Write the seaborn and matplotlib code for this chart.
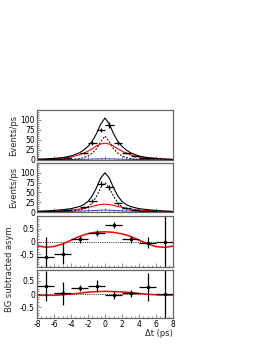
import numpy as np
import pandas as pd
import matplotlib
matplotlib.use("Agg")
import matplotlib.pyplot as plt
import seaborn as sns
from matplotlib.ticker import MultipleLocator

sns.set_theme(style="white")
plt.rcParams['font.family'] = ['DejaVu Sans']

# ---- data ----
# curve sample points (dt in ps)
curve_x = [-8, -7, -6, -5, -4, -3, -2.5, -2, -1.5, -1, -0.5, 0, 0.5, 1, 1.5, 2, 2.5, 3, 4, 5, 6, 7, 8]

# panel 1 curves
p1_total = [1.5, 2.5, 4, 6, 10, 18, 25, 34, 47, 66, 90, 105, 90, 66, 47, 34, 25, 18, 10, 6, 4, 2.5, 1.5]
p1_sig   = [0.1, 0.2, 0.4, 0.8, 1.5, 3.5, 6, 10, 17, 28, 46, 60, 46, 28, 17, 10, 6, 3.5, 1.5, 0.8, 0.4, 0.2, 0.1]
p1_bkg   = [1.2, 2, 3, 4.5, 7.5, 13, 17, 22, 28, 35, 40, 42, 40, 35, 28, 22, 17, 13, 7.5, 4.5, 3, 2, 1.2]
p1_blue  = [0.3, 0.4, 0.6, 0.8, 1.0, 1.4, 1.7, 2.0, 2.3, 2.6, 2.9, 3.0, 2.9, 2.6, 2.3, 2.0, 1.7, 1.4, 1.0, 0.8, 0.6, 0.4, 0.3]

# panel 2 curves
p2_total = [1.5, 2.5, 4, 6, 8.5, 14, 19, 27, 41, 62, 87, 100, 87, 62, 41, 27, 19, 14, 8.5, 6, 4, 2.5, 1.5]
p2_sig   = [0.1, 0.2, 0.4, 0.8, 2, 5, 8, 13, 23, 40, 62, 75, 62, 40, 23, 13, 8, 5, 2, 0.8, 0.4, 0.2, 0.1]
p2_bkg   = [1, 1.5, 2.2, 3.5, 5, 7.5, 9.5, 12, 14, 17, 19, 20, 19, 17, 14, 12, 9.5, 7.5, 5, 3.5, 2.2, 1.5, 1]
p2_blue  = [0.4, 0.6, 0.9, 1.2, 1.7, 2.3, 2.7, 3.1, 3.6, 4.1, 4.6, 5.0, 4.6, 4.1, 3.6, 3.1, 2.7, 2.3, 1.7, 1.2, 0.9, 0.6, 0.4]

# panel 1 data points
p1_x    = [-6.5, -4.5, -2.5, -1.5, -0.5, 0.5, 1.5, 2.5, 3.5, 5.0]
p1_xerr = [1.5, 0.5, 0.5, 0.5, 0.5, 0.5, 0.5, 0.5, 0.5, 1.0]
p1_y    = [2, 6, 17, 43, 75, 88, 43, 17, 9, 4]
p1_yerr = [1, 2, 3, 5, 6, 7, 5, 3, 2, 1.5]

# panel 2 data points
p2_x    = [-6.5, -4.5, -2.5, -1.5, -0.5, 0.5, 1.5, 2.5, 3.5, 5.0]
p2_xerr = [1.5, 0.5, 0.5, 0.5, 0.5, 0.5, 0.5, 0.5, 0.5, 1.0]
p2_y    = [3, 5, 13, 28, 72, 63, 22, 11, 5, 2]
p2_yerr = [1.5, 2, 3, 4, 6, 6, 4, 3, 2, 1.5]

# asymmetry panels
asym_x    = [-7, -5, -3, -1, 1, 3, 5, 7]
asym_xerr = [1, 1, 1, 1, 1, 1, 1, 1]
p3_y      = [-0.62, -0.48, 0.08, 0.32, 0.63, 0.08, -0.04, 0.0]
p3_yerr   = [0.8, 0.42, 0.14, 0.12, 0.12, 0.12, 0.22, 2.0]
p4_y      = [0.30, 0.02, 0.22, 0.30, -0.02, 0.02, 0.26, 0.0]
p4_yerr   = [0.58, 0.42, 0.12, 0.22, 0.15, 0.12, 0.52, 2.0]

asym_curve_x = [-8, -7, -6, -5, -4, -3, -2, -1, 0, 1, 2, 3, 4, 5, 6, 7, 8]
p3_curve = [-0.17, -0.22, -0.2, -0.1, 0.05, 0.2, 0.31, 0.37, 0.38, 0.36, 0.3, 0.2, 0.05, -0.09, -0.2, -0.23, -0.18]
p4_curve = [-0.05, -0.05, -0.05, -0.03, 0.0, 0.03, 0.07, 0.09, 0.1, 0.09, 0.08, 0.05, 0.02, -0.01, -0.03, -0.04, -0.04]

xticks = [-8, -6, -4, -2, 0, 2, 4, 6, 8]

# ---- figure ----
fig = plt.figure(figsize=(2.66, 3.44), dpi=100)
W, H = 266.0, 344.0
left, right = 37, 173

def make_ax(top, bottom):
    return fig.add_axes([left / W, 1 - bottom / H, (right - left) / W, (bottom - top) / H])

ax1 = make_ax(110, 160)
ax2 = make_ax(163, 212)
ax3 = make_ax(216, 267)
ax4 = make_ax(270, 318)

frame_col = "#666666"
for ax in (ax1, ax2, ax3, ax4):
    ax.set_facecolor("white")
    for s in ax.spines.values():
        s.set_color(frame_col)
        s.set_linewidth(0.9)
    ax.set_xlim(-8, 8)
    ax.xaxis.set_major_locator(MultipleLocator(2))
    ax.xaxis.set_minor_locator(MultipleLocator(0.5))
    ax.tick_params(axis="both", which="both", direction="in", colors=frame_col,
                   labelcolor="black", labelsize=5.5, pad=1.5, width=0.5)
    ax.tick_params(which="major", length=3)
    ax.tick_params(which="minor", length=1.5)
    ax.tick_params(axis="both", which="both", left=True, bottom=True)

def curve_df(xs, ys):
    return pd.DataFrame({"dt": xs, "v": ys})

for ax, tot, sig, bkg, blue, px, pxe, py, pye in (
        (ax1, p1_total, p1_sig, p1_bkg, p1_blue, p1_x, p1_xerr, p1_y, p1_yerr),
        (ax2, p2_total, p2_sig, p2_bkg, p2_blue, p2_x, p2_xerr, p2_y, p2_yerr)):
    sns.lineplot(data=curve_df(curve_x, blue), x="dt", y="v", ax=ax, color="#3344dd", lw=0.7)
    sns.lineplot(data=curve_df(curve_x, bkg), x="dt", y="v", ax=ax, color="red", lw=0.8)
    sns.lineplot(data=curve_df(curve_x, sig), x="dt", y="v", ax=ax, color="black", lw=0.7, linestyle=(0, (2, 1.5)))
    sns.lineplot(data=curve_df(curve_x, tot), x="dt", y="v", ax=ax, color="black", lw=0.8)
    ax.errorbar(px, py, xerr=pxe, yerr=pye, fmt="none", ecolor="black", elinewidth=0.9, capsize=0)
    ax.set_ylim(0, 125)
    ax.yaxis.set_major_locator(MultipleLocator(25))
    ax.yaxis.set_minor_locator(MultipleLocator(5))
    ax.set_yticks([0, 25, 50, 75, 100])
    ax.set_xticklabels([])
    ax.set_xlabel("")
    ax.set_ylabel("Events/ps", fontsize=6, labelpad=2)

for ax, yv, ye, cv, lim in ((ax3, p3_y, p3_yerr, p3_curve, (-1.0, 1.0)),
                            (ax4, p4_y, p4_yerr, p4_curve, (-0.9, 0.9))):
    ax.axhline(0, color="black", lw=0.6, linestyle=(0, (1, 1.2)))
    sns.lineplot(data=curve_df(asym_curve_x, cv), x="dt", y="v", ax=ax, color="red", lw=1.1)
    ax.errorbar(asym_x, yv, xerr=asym_xerr, yerr=ye, fmt="o", ms=1.5, color="black",
                ecolor="black", elinewidth=0.9, capsize=0)
    ax.set_ylim(*lim)
    ax.set_yticks([-0.5, 0, 0.5])
    ax.yaxis.set_minor_locator(MultipleLocator(0.1))
    ax.set_yticklabels(["-0.5", "0", "0.5"])
    ax.set_ylabel("")
    ax.set_xlabel("")

ax3.set_xticklabels([])
ax4.set_xticks(xticks)
ax4.set_xticklabels([str(t) for t in xticks])
ax4.set_xlabel("Δt (ps)", fontsize=6, labelpad=1)
ax4.xaxis.set_label_coords(1.0, -0.22)
ax4.xaxis.label.set_horizontalalignment("right")

fig.text(10 / W, 1 - 268 / H, "BG subtracted asym.", rotation=90, fontsize=6,
         ha="center", va="center")

fig.savefig("out.png", dpi=100, facecolor="white")
